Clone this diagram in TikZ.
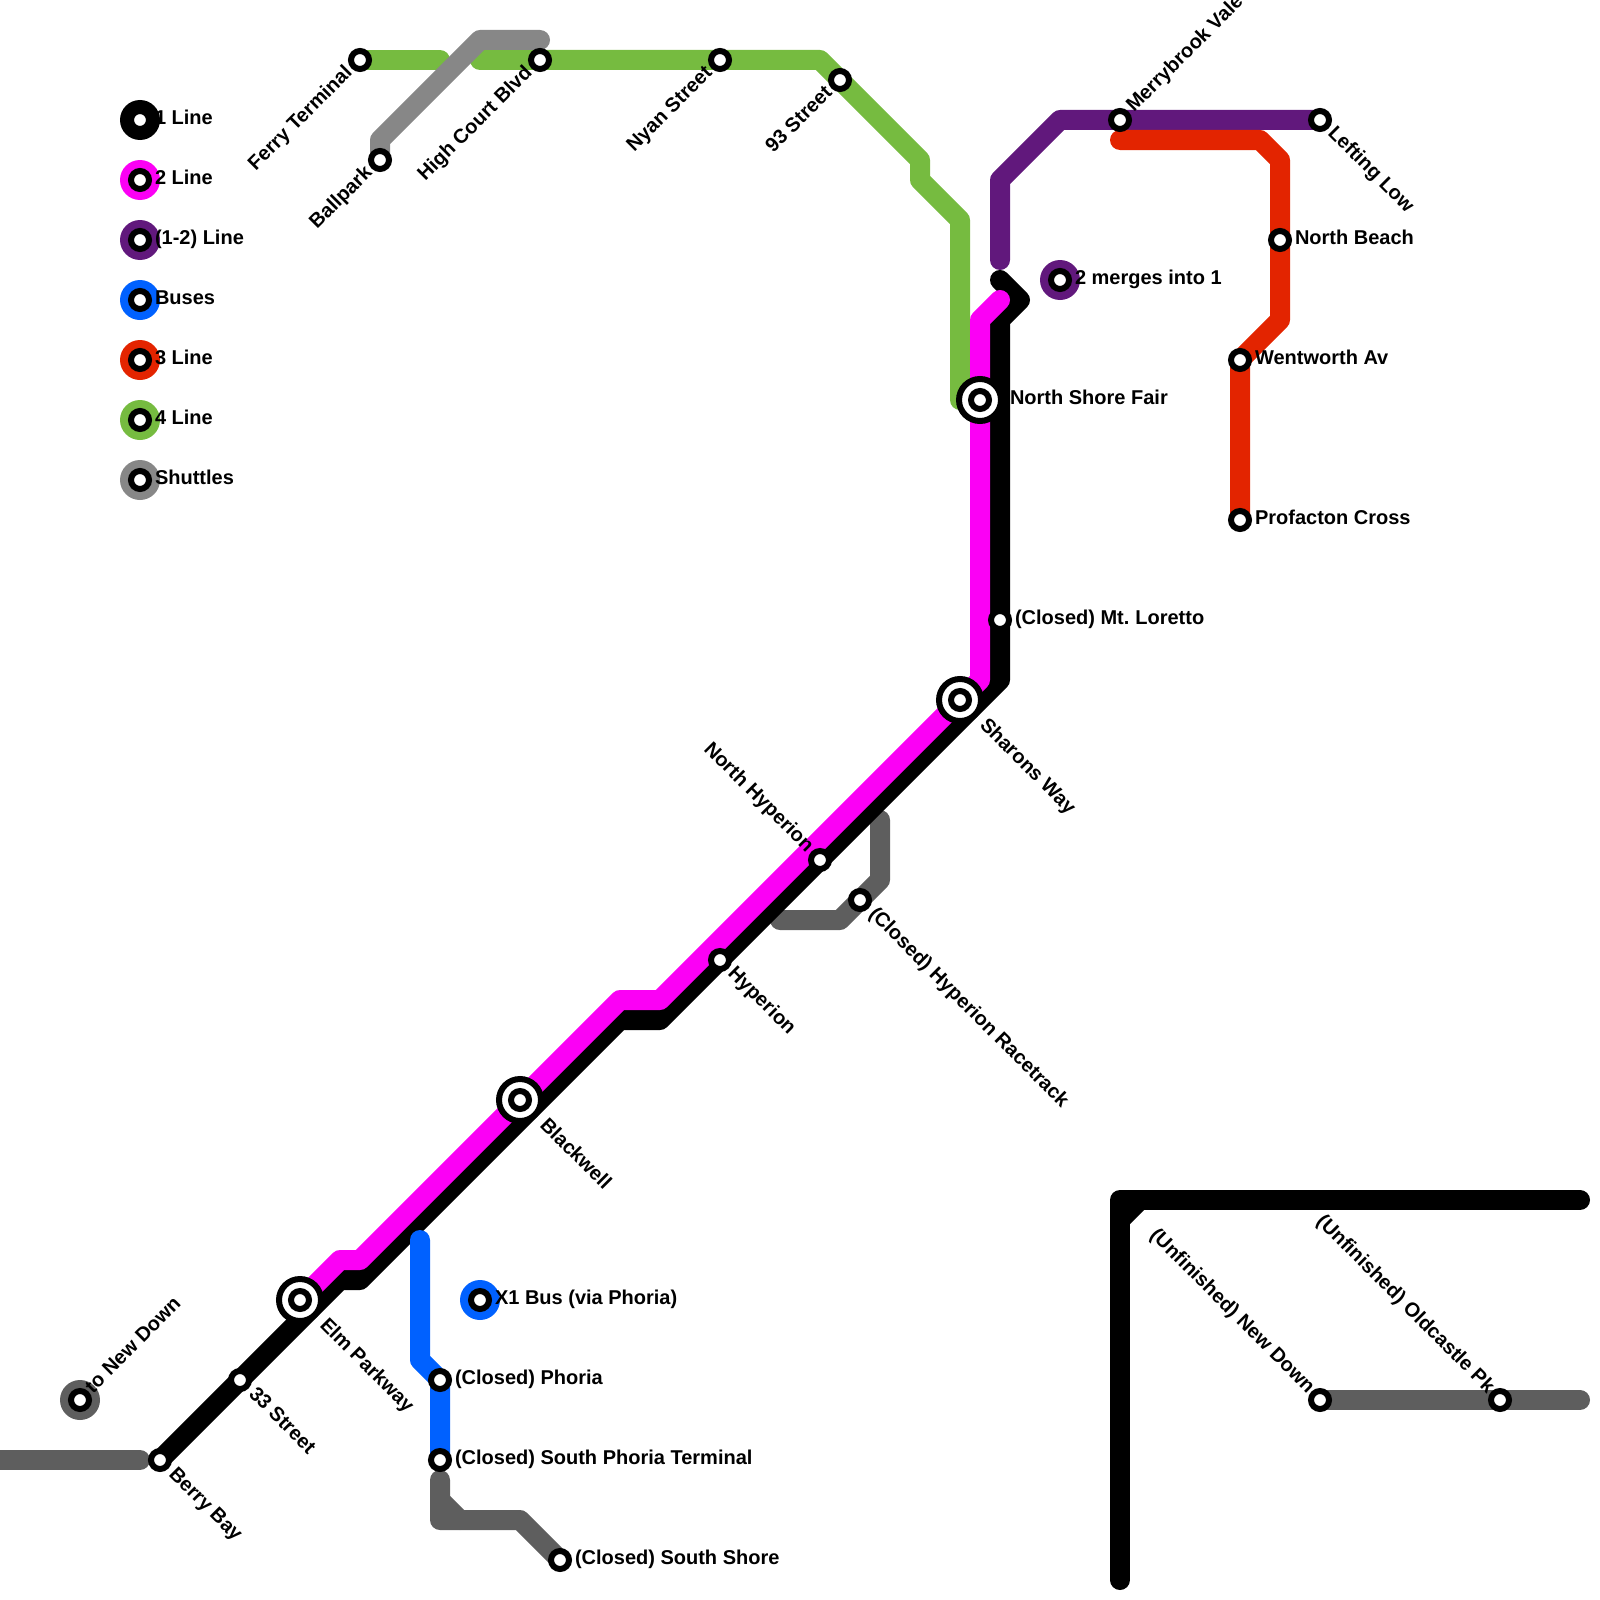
\documentclass[tikz,border=0pt]{standalone}
\usepackage{fontspec}
\setmainfont{Liberation Sans}
\definecolor{cmag}{HTML}{FB00F5}
\definecolor{cpur}{HTML}{61187C}
\definecolor{cblue}{HTML}{0061FF}
\definecolor{cred}{HTML}{E32400}
\definecolor{cgreen}{HTML}{76BB40}
\definecolor{cgray}{HTML}{878787}
\definecolor{cdark}{HTML}{5E5E5E}
\tikzset{
 line/.style={line width=20pt,line cap=round,line join=round},
 stn/.style={circle,draw=black,fill=white,line width=6pt,minimum size=18pt,inner sep=0pt,outer sep=0pt},
 hub/.style={circle,draw=black,fill=white,line width=6pt,minimum size=42pt,inner sep=0pt,outer sep=0pt},
 disc/.style={circle,fill=#1,minimum size=40pt,inner sep=0pt,outer sep=0pt},
 lab/.style={font=\bfseries\fontsize{20}{24}\selectfont,inner sep=0pt,outer sep=0pt,text=black},
 hl/.style={lab,anchor=base west},
 dr/.style={lab,anchor=base west,rotate=-45},
 dl/.style={lab,anchor=base east,rotate=-45},
 ur/.style={lab,anchor=base west,rotate=45},
 ul/.style={lab,anchor=base east,rotate=45},
}
\begin{document}
\begin{tikzpicture}[x=1pt,y=-1pt]
\useasboundingbox (0,0) rectangle (1600,1600);
% station positions
\foreach \n/\x/\y in {ferry/360/60,ball/380/160,high/540/60,nyan/720/60,nin/840/80,merry/1120/120,left/1320/120,
 nbeach/1280/240,went/1240/360,prof/1240/520,nsf/980/400,lor/1000/620,shar/960/700,nhyp/820/860,hyp/720/960,
 race/860/900,blackw/520/1100,elm/300/1300,tts/240/1380,berry/160/1460,tond/80/1400,xone/480/1300,phor/440/1380,
 sphor/440/1460,sshore/560/1560,unew/1320/1400,uold/1500/1400,merge/1060/280,
 lga/140/120,lgb/140/180,lgc/140/240,lgd/140/300,lge/140/360,lgf/140/420,lgg/140/480}
  {\coordinate (\n) at (\x,\y);}
% lines
\draw[line,cdark] (0,1460) -- (140,1460);
\draw[line,cdark] (unew) -- (1580,1400);
\draw[line,cdark] (880,820) -- (880,880) -- (race) -- (840,920) -- (780,920);
\draw[line,cdark] (440,1480) -- (440,1520) -- (520,1520) -- (sshore);
\draw[line,cdark] (440,1500) -- (460,1520);
\draw[line,cgreen] (ferry) -- (440,60);
\draw[line,cgreen] (480,60) -- (820,60) -- (920,160) -- (920,180) -- (960,220) -- (960,400);
\draw[line,cgray] (ball) -- (380,140) -- (480,40) -- (540,40);
\draw[line,cpur] (1000,260) -- (1000,180) -- (1060,120) -- (left);
\draw[line,cred] (1120,140) -- (1260,140) -- (1280,160) -- (1280,320) -- (went) -- (prof);
\draw[line,black] (1000,280) -- (1020,300) -- (1000,320) -- (1000,680) -- (660,1020) -- (620,1020) -- (360,1280) -- (340,1280) -- (berry);
\draw[line,black] (1120,1580) -- (1120,1200) -- (1580,1200);
\draw[line,black] (1120,1220) -- (1140,1200);
\draw[line,cblue] (420,1240) -- (420,1360) -- (phor) -- (sphor);
\draw[line,cmag] (1000,300) -- (980,320) -- (980,680) -- (660,1000) -- (620,1000) -- (360,1260) -- (340,1260) -- (elm);
% legend discs
\node[disc=black] (dga) at (lga) {};
\node[disc=cmag] (dgb) at (lgb) {};
\node[disc=cpur] (dgc) at (lgc) {};
\node[disc=cblue] (dgd) at (lgd) {};
\node[disc=cred] (dge) at (lge) {};
\node[disc=cgreen] (dgf) at (lgf) {};
\node[disc=cgray] (dgg) at (lgg) {};
\node[disc=cpur] (dmerge) at (merge) {};
\node[disc=cblue] (dxone) at (xone) {};
\node[disc=cdark] (dtond) at (tond) {};
% interchange rings
\node[hub] (hubnsf) at (nsf) {};
\node[hub] (hubshar) at (shar) {};
\node[hub] (hubblack) at (blackw) {};
\node[hub] (hubelm) at (elm) {};
% station markers
\foreach \n in {ferry,ball,high,nyan,nin,merry,left,nbeach,went,prof,nsf,lor,shar,nhyp,hyp,race,blackw,elm,tts,berry,tond,xone,phor,sphor,sshore,unew,uold,merge,lga,lgb,lgc,lgd,lge,lgf,lgg}
  {\node[stn] (stn-\n) at (\n) {};}
% legend labels
\node[hl] (la) at (155,124.5) {1 Line};
\node[hl] (lb) at (155,184.5) {2 Line};
\node[hl] (lc) at (155,244.5) {(1-2) Line};
\node[hl] (ld) at (155,304.5) {Buses};
\node[hl] (le) at (155,364.5) {3 Line};
\node[hl] (lf) at (155,424.5) {4 Line};
\node[hl] (lg) at (155,484.5) {Shuttles};
% horizontal labels
\node[hl] (lmerge) at (1075,284.5) {2 merges into 1};
\node[hl] (lnb) at (1295,244.5) {North Beach};
\node[hl] (lwent) at (1255,364.5) {Wentworth Av};
\node[hl] (lprof) at (1255,524.5) {Profacton Cross};
\node[hl] (lnsf) at (1010,404.5) {North Shore Fair};
\node[hl] (llor) at (1015,624.5) {(Closed) Mt.\kern-1.5pt{} Loretto};
\node[hl] (lx) at (495,1304.5) {X1 Bus (via Phoria)};
\node[hl] (lph) at (455,1384.5) {(Closed) Phoria};
\node[hl] (lsph) at (455,1464.5) {(Closed) South Phoria Terminal};
\node[hl] (lss) at (575,1564.5) {(Closed) South Shore};
% diagonal labels
\node[ul] (lferry) at (353,74) {Ferry Terminal};
\node[ul] (lball) at (373,174) {Ballpark};
\node[ul] (lhigh) at (533,74) {High Court Blvd};
\node[ul] (lnyan) at (713,74) {Nyan Street};
\node[ul] (lnin) at (833,94) {93 Street};
\node[ur] (lmerry) at (1134,113) {Merrybrook Vale};
\node[ur] (ltond) at (93,1394) {to New Down};
\node[dr] (lleft) at (1327,134) {Lefting Low};
\node[dr] (lshar) at (979,726) {Sharons Way};
\node[dl] (lnhyp) at (806,853) {North Hyperion};
\node[dr] (lhyp) at (727,974) {Hyperion};
\node[dr] (lrace) at (868,915) {(Closed) Hyperion Racetrack};
\node[dr] (lblack) at (539,1126) {Blackwell};
\node[dr] (lelm) at (319,1326) {Elm Parkway};
\node[dr] (ltts) at (248,1395) {33 Street};
\node[dr] (lberry) at (168,1475) {Berry Bay};
\node[dl] (lunew) at (1307,1394) {(Unfinished) New Down};
\node[dl] (luold) at (1487,1394) {(Unfinished) Oldcastle Pk};
\end{tikzpicture}
\end{document}
